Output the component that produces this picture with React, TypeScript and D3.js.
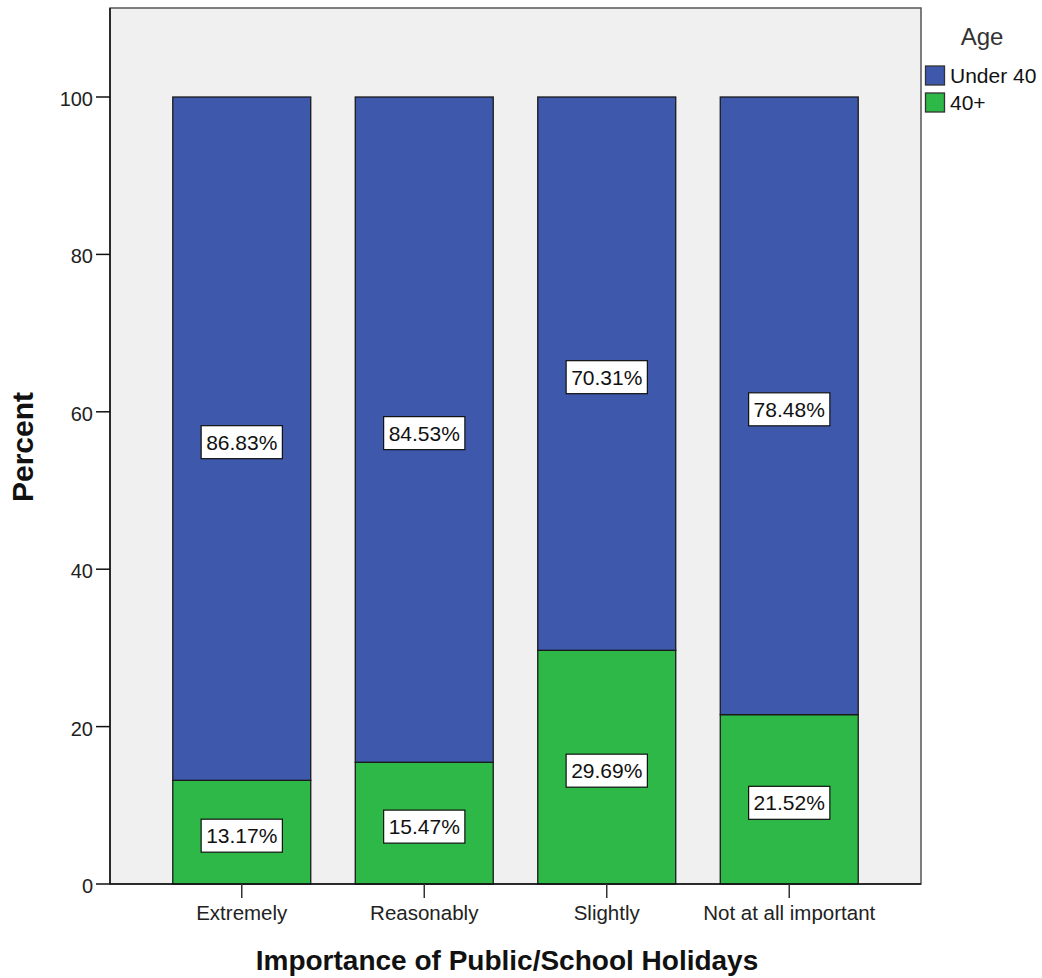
import React, { useEffect, useRef } from "react";
import * as d3 from "d3";

const categories = ["Extremely", "Reasonably", "Slightly", "Not at all important"];
const under40 = [86.83, 84.53, 70.31, 78.48];
const over40 = [13.17, 15.47, 29.69, 21.52];
const seriesNames = ["Under 40", "40+"];
const yTicks = [0, 20, 40, 60, 80, 100];

const W = 1042;
const H = 978;
const FONT = "'Liberation Sans', Arial, sans-serif";
const BLUE = "#3E58AC";
const GREEN = "#2EB848";

export default function App() {
  const ref = useRef<SVGSVGElement | null>(null);

  useEffect(() => {
    const svg = d3.select(ref.current);
    svg.selectAll("*").remove();

    const left = 110, right = 921, top = 8, bottom = 884;
    const x = d3.scaleBand<string>().domain(categories).range([left, right]).paddingInner(0.244).paddingOuter(0.344);
    const y = d3.scaleLinear().domain([0, 100]).range([bottom, 97]);

    // plot background
    svg.append("rect").attr("x", left).attr("y", top).attr("width", right - left).attr("height", bottom - top)
      .attr("fill", "#F0F0F0").attr("stroke", "#555").attr("stroke-width", 1.5);

    const stacks = categories.map((c, i) => ({
      cat: c,
      segs: [
        { name: seriesNames[1], v0: 0, v1: over40[i], val: over40[i], color: GREEN },
        { name: seriesNames[0], v0: over40[i], v1: over40[i] + under40[i], val: under40[i], color: BLUE },
      ],
    }));

    const g = svg.append("g");
    stacks.forEach((s) => {
      s.segs.forEach((seg) => {
        g.append("rect")
          .attr("x", x(s.cat)!)
          .attr("width", x.bandwidth())
          .attr("y", y(seg.v1))
          .attr("height", y(seg.v0) - y(seg.v1))
          .attr("fill", seg.color)
          .attr("stroke", "#1a1a1a")
          .attr("stroke-width", 1.3);
      });
    });

    // value labels
    stacks.forEach((s) => {
      s.segs.forEach((seg) => {
        const cx = x(s.cat)! + x.bandwidth() / 2;
        const cy = y((seg.v0 + seg.v1) / 2) + 3.5;
        const lg = svg.append("g");
        const rect = lg.append("rect").attr("fill", "#fff").attr("stroke", "#111").attr("stroke-width", 1.2);
        const t = lg.append("text")
          .attr("x", cx).attr("y", cy).attr("dy", "0.36em")
          .attr("text-anchor", "middle")
          .attr("font-family", FONT).attr("font-size", 21).attr("fill", "#111")
          .text(seg.val.toFixed(2) + "%");
        const tw = (t.node() as SVGTextElement).getComputedTextLength();
        const bw = tw + 10, bh = 33;
        rect.attr("x", cx - bw / 2).attr("y", cy - bh / 2).attr("width", bw).attr("height", bh);
      });
    });

    // y axis
    const ya = svg.append("g");
    yTicks.forEach((t) => {
      ya.append("line").attr("x1", left - 14).attr("x2", left).attr("y1", y(t)).attr("y2", y(t))
        .attr("stroke", "#111").attr("stroke-width", 1.5);
      ya.append("text").attr("x", left - 17).attr("y", y(t)).attr("dy", "0.45em")
        .attr("text-anchor", "end").attr("font-family", FONT).attr("font-size", 20).attr("fill", "#222")
        .text(String(t));
    });
    // x axis
    const xa = svg.append("g");
    xa.append("line").attr("x1", left).attr("x2", right).attr("y1", bottom).attr("y2", bottom)
      .attr("stroke", "#111").attr("stroke-width", 1.5);
    ya.append("line").attr("x1", left).attr("x2", left).attr("y1", top).attr("y2", bottom)
      .attr("stroke", "#111").attr("stroke-width", 1.5);
    categories.forEach((c) => {
      const cx = x(c)! + x.bandwidth() / 2;
      xa.append("line").attr("x1", cx).attr("x2", cx).attr("y1", bottom).attr("y2", bottom + 14)
        .attr("stroke", "#333").attr("stroke-width", 1.5);
      xa.append("text").attr("x", cx).attr("y", 920).attr("text-anchor", "middle")
        .attr("font-family", FONT).attr("font-size", 20.5).attr("fill", "#222").text(c);
    });

    // axis titles
    svg.append("text").attr("x", 507).attr("y", 970).attr("text-anchor", "middle")
      .attr("font-family", FONT).attr("font-weight", "bold").attr("font-size", 28).attr("fill", "#111")
      .text("Importance of Public/School Holidays");
    svg.append("text").attr("transform", "translate(33,447) rotate(-90)").attr("text-anchor", "middle")
      .attr("font-family", FONT).attr("font-weight", "bold").attr("font-size", 30).attr("fill", "#111")
      .text("Percent");

    // legend
    svg.append("text").attr("x", 982).attr("y", 45).attr("text-anchor", "middle")
      .attr("font-family", FONT).attr("font-size", 24).attr("fill", "#333").text("Age");
    const legendItems = [
      { name: seriesNames[0], color: BLUE },
      { name: seriesNames[1], color: GREEN },
    ];
    legendItems.forEach((it, i) => {
      const ly = 66 + i * 27;
      svg.append("rect").attr("x", 925.5).attr("y", ly).attr("width", 19).attr("height", 19)
        .attr("fill", it.color).attr("stroke", "#333").attr("stroke-width", 1.3);
      svg.append("text").attr("x", 950).attr("y", ly + 9.5).attr("dy", "0.36em")
        .attr("font-family", FONT).attr("font-size", 21).attr("fill", "#111").text(it.name);
    });
  }, []);

  return <svg ref={ref} width={W} height={H} style={{ display: "block", position: "absolute", left: 0, top: 0, background: "#fff" }} />;
}
